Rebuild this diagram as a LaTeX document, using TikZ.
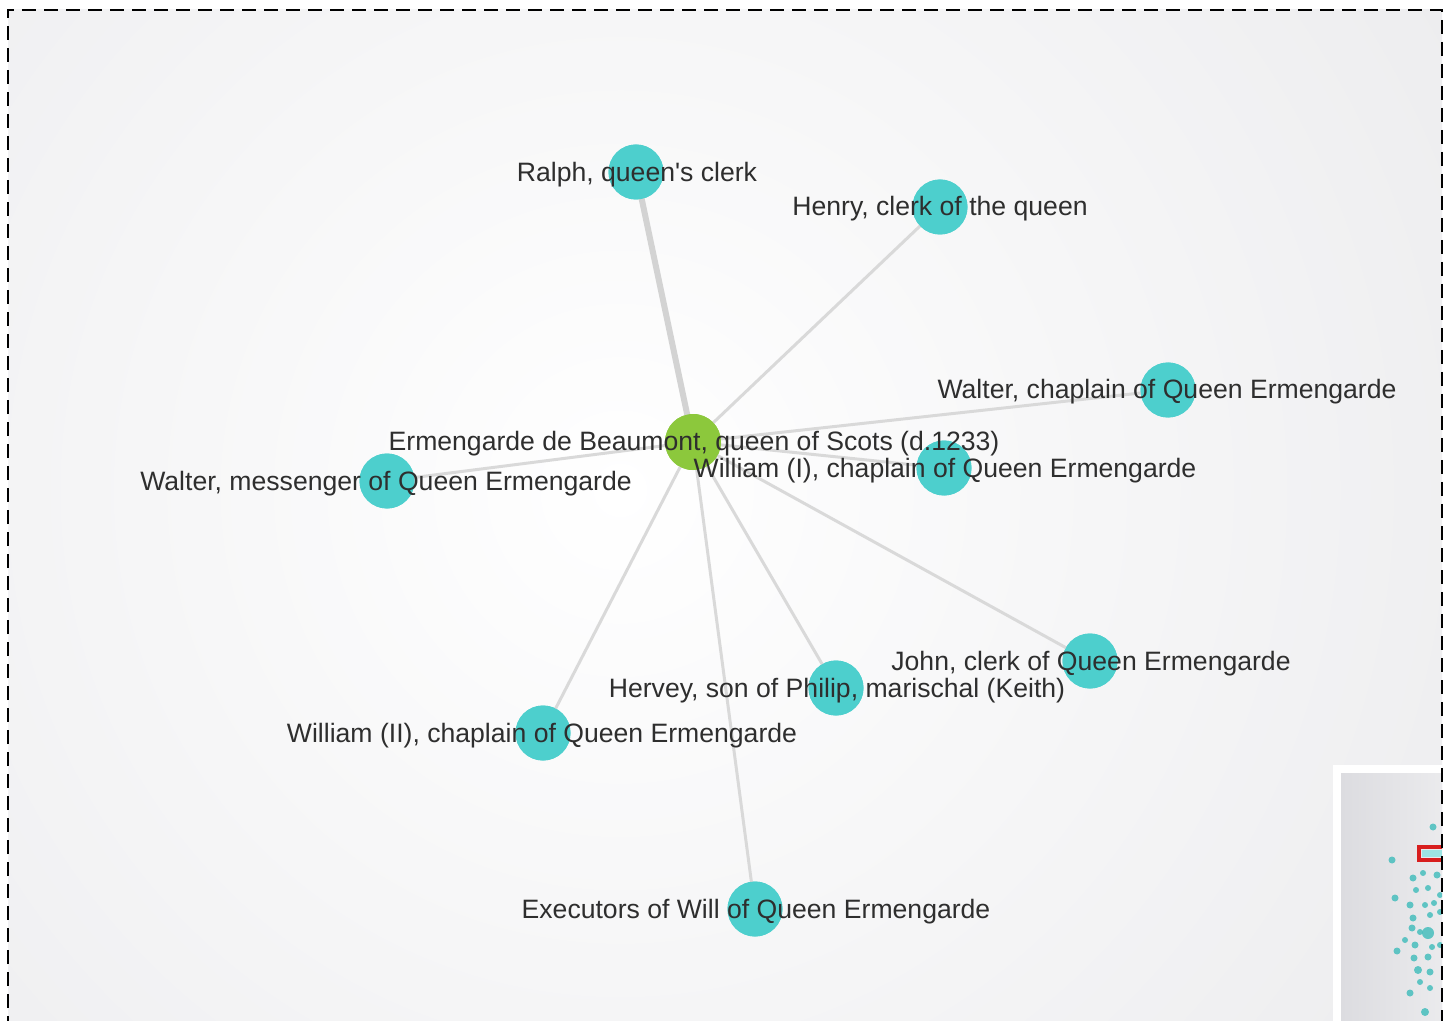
\documentclass[tikz,border=0pt]{standalone}
\usepackage{fontspec}
\setmainfont{Liberation Sans}
\newfontfamily\labelfont{Liberation Sans}
\definecolor{bgouter}{HTML}{D2D2D7}
\definecolor{nodecyan}{HTML}{4DCFCD}
\definecolor{nodegreen}{HTML}{8CC83C}
\definecolor{edgegrey}{HTML}{D6D6D6}
\definecolor{edgethick}{HTML}{CFCFCF}
\definecolor{labeltext}{HTML}{2E2E2E}
\definecolor{insetbg}{HTML}{DCDCE0}
\definecolor{insetred}{HTML}{D81E1E}
\tikzset{
  person/.style={circle,fill=nodecyan,minimum size=27.5pt,inner sep=0pt},
  queen/.style={circle,fill=nodegreen,minimum size=28pt,inner sep=0pt},
  lbl/.style={text=labeltext,font=\labelfont\fontsize{13.3pt}{15pt}\selectfont,inner sep=0pt,anchor=center},
  link/.style={draw=edgegrey,line width=1.5pt,opacity=0.9},
  thicklink/.style={draw=edgethick,line width=3pt,opacity=0.9},
  minidot/.style={fill=nodecyan!92!black,opacity=0.85},
}
\begin{document}
\begin{tikzpicture}[x=0.5pt,y=-0.5pt]
\useasboundingbox (0,0) rectangle (1450,1021);
\fill[white] (0,0) rectangle (1450,1021);
% shaded canvas
\begin{scope}
  \clip (8,10) rectangle (1442,1021);
  \shade[inner color=white,outer color=bgouter] (620-2400,490-2400) rectangle (620+2400,490+2400);
\end{scope}

% nodes
\node[queen] (q) at (693,442) {};
\node[person] (ralph) at (636,172) {};
\node[person] (henry) at (940,207) {};
\node[person] (walterc) at (1168,390) {};
\node[person] (william1) at (944,468) {};
\node[person] (walterm) at (387,481) {};
\node[person] (john) at (1090,661) {};
\node[person] (hervey) at (836,688) {};
\node[person] (william2) at (543,733) {};
\node[person] (exec) at (755,909) {};

% connectors
\path[thicklink] (q.center) -- (ralph.center);
\foreach \t in {henry,walterc,william1,walterm,john,hervey,william2,exec}
  \path[link] (q.center) -- (\t.center);

% circles again, above the connectors
\foreach \t in {ralph,henry,walterc,william1,walterm,john,hervey,william2,exec}
  \fill[nodecyan] (\t) circle (27.5);
\fill[nodegreen] (q) circle (28);

% labels
\node[lbl] (ralphl) at (637,175) {Ralph, queen's clerk};
\node[lbl] (henryl) at (940,209) {Henry, clerk of the queen};
\node[lbl] (waltercl) at (1167,392) {Walter, chaplain of Queen Ermengarde};
\node[lbl] (ql) at (694,444) {Ermengarde de Beaumont, queen of Scots (d.1233)};
\node[lbl] (william1l) at (945,471) {William (I), chaplain of Queen Ermengarde};
\node[lbl] (waltermlabel) at (386,484) {Walter, messenger of Queen Ermengarde};
\node[lbl] (johnl) at (1091,664) {John, clerk of Queen Ermengarde};
\node[lbl] (herveyl) at (837,691) {Hervey, son of Philip, marischal (Keith)};
\node[lbl] (william2l) at (542,736) {William (II), chaplain of Queen Ermengarde};
\node[lbl] (execl) at (756,912) {Executors of Will of Queen Ermengarde};

% overview inset
\begin{scope}
  \clip (1333,765) rectangle (1442,1021);
  \fill[white] (1333,765) rectangle (1450,1021);
  \shade[left color=insetbg,right color=insetbg!55!white] (1341,773) rectangle (1450,1021);
  \foreach \x/\y/\r in {1433/827/3.5,1392/860/3.5,1413/878/3.5,1423/873/3,1437/875/3.5,1395/898/3.5,
      1416/890/3,1428/888/3,1410/905/3.5,1425/905/3,1434/903/3,1413/918/3.5,1430/915/3,
      1440/912/3,1412/928/3.5,1420/932/3,1428/933/6,1415/945/3.5,1405/940/3,1432/947/3,
      1440/945/3,1397/951/3.5,1414/958/3.5,1428/957/3.5,1418/970/4,1430/972/3.5,1410/993/3.5,
      1430/988/3,1425/1012/4,1440/895/3,1420/982/3}
    \fill[minidot] (\x,\y) circle (\r);
  \fill[nodecyan!55!white] (1422,850) rectangle (1442,857);
  \draw[insetred,line width=2pt] (1419,847) rectangle (1446,860);
\end{scope}

% dashed frame
\draw[black,line width=1pt,dash pattern=on 7pt off 4pt] (8,1030) -- (8,10) -- (1442,10) -- (1442,1030);
\end{tikzpicture}
\end{document}
